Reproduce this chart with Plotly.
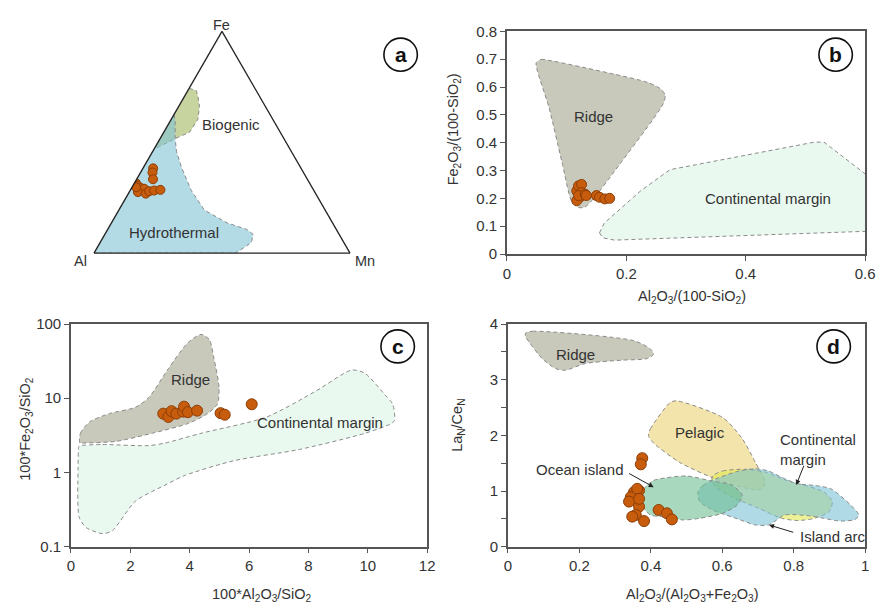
import plotly.graph_objects as go

W, H = 886, 614

# ---------------- (a) Fe-Al-Mn ternary, percent ----------------
a_fe = [38.2, 36.3, 33.3, 31.6, 30.4, 29.3, 29.0, 27.5, 26.8, 27.9, 28.2, 28.5, 29.7]
a_al = [57.8, 59.0, 60.3, 67.9, 67.7, 67.0, 65.9, 69.1, 66.4, 64.5, 62.4, 59.8, 68.7]
a_mn = [4.0, 4.7, 6.4, 0.5, 1.9, 3.7, 5.1, 3.4, 6.8, 7.6, 9.4, 11.7, 1.6]

bio_fe = [74.3, 73.3, 70.6, 66.2, 60.4, 54.5, 52.3, 50.1, 46.9]
bio_al = [25.7, 23.4, 24.1, 25.7, 29.2, 35.4, 40.9, 45.8, 53.1]
bio_mn = [0.0, 3.3, 5.3, 8.1, 10.4, 10.1, 6.8, 4.1, 0.0]

hyd_fe = [62.6, 59.6, 51.6, 45.7, 38.5, 28.2, 19.4, 13.6, 10.7, 8.5, 4.8, 1.2, 0.0, 0.0]
hyd_al = [37.4, 38.5, 42.5, 44.9, 46.5, 47.9, 47.2, 41.2, 35.1, 33.6, 36.1, 42.4, 44.9, 100.0]
hyd_mn = [0.0, 1.9, 5.9, 9.4, 15.0, 23.9, 33.4, 45.2, 54.2, 57.9, 59.1, 56.4, 55.1, 0.0]

# ---------------- (b) Fe2O3/(100-SiO2) vs Al2O3/(100-SiO2) ----------------
b_x = [0.117, 0.120, 0.122, 0.125, 0.125, 0.117, 0.120, 0.131, 0.133, 0.150, 0.155, 0.164, 0.172]
b_y = [0.227, 0.245, 0.204, 0.250, 0.221, 0.192, 0.210, 0.215, 0.210, 0.210, 0.204, 0.198, 0.200]

rb_x = [0.049, 0.057, 0.070, 0.180, 0.235, 0.257, 0.265, 0.262, 0.180, 0.147, 0.131, 0.120, 0.109, 0.092, 0.070, 0.051]
rb_y = [0.687, 0.699, 0.696, 0.646, 0.617, 0.594, 0.571, 0.541, 0.297, 0.204, 0.169, 0.167, 0.186, 0.332, 0.530, 0.658]

cb_x = [0.155, 0.163, 0.224, 0.273, 0.400, 0.515, 0.531, 0.620, 0.620, 0.180, 0.161]
cb_y = [0.076, 0.111, 0.227, 0.303, 0.355, 0.402, 0.402, 0.255, 0.083, 0.050, 0.058]

# ---------------- (c) 100*Fe2O3/SiO2 vs 100*Al2O3/SiO2 ----------------
c_x = [3.11, 3.28, 3.39, 3.55, 3.78, 3.81, 3.94, 4.25, 5.04, 5.18, 6.09]
c_y = [6.2, 5.6, 6.7, 6.2, 6.6, 7.7, 6.5, 6.8, 6.3, 6.0, 8.3]

rc_x = [0.30, 0.32, 0.63, 1.29, 2.17, 2.62, 3.28, 3.94, 4.38, 4.66, 4.82, 4.99, 4.93, 4.60, 3.94, 2.73, 1.51, 0.35]
rc_y = [2.49, 3.37, 4.8, 6.2, 7.55, 10.2, 25, 56, 72.5, 62, 34, 13.8, 8.3, 6.2, 4.56, 3.37, 2.62, 2.49]

cc_x = [0.30, 1.07, 2.62, 3.17, 4.38, 6.59, 8.25, 9.46, 9.90, 10.56, 10.84, 10.90, 10.79, 9.90, 7.69,
        5.49, 3.83, 3.17, 2.17, 1.40, 1.07, 0.52, 0.28, 0.24, 0.27]
cc_y = [2.30, 2.38, 2.30, 2.49, 3.37, 5.58, 12.5, 24, 21.7, 11.3, 8.3, 5.05, 4.56, 3.37, 2.04,
        1.44, 0.91, 0.676, 0.41, 0.165, 0.15, 0.18, 0.247, 1.12, 2.26]

# ---------------- (d) LaN/CeN vs Al2O3/(Al2O3+Fe2O3) ----------------
d_x = [0.376, 0.372, 0.367, 0.353, 0.344, 0.339, 0.367, 0.358, 0.348, 0.381, 0.422, 0.445, 0.459, 0.362, 0.367]
d_y = [1.59, 1.48, 1.01, 0.98, 0.89, 0.81, 0.72, 0.57, 0.54, 0.46, 0.66, 0.60, 0.49, 1.04, 0.86]

rd_x = [0.050, 0.069, 0.353, 0.399, 0.408, 0.390, 0.317, 0.216, 0.161, 0.133, 0.096, 0.060, 0.049]
rd_y = [3.84, 3.87, 3.70, 3.55, 3.46, 3.38, 3.35, 3.29, 3.17, 3.20, 3.38, 3.67, 3.78]

pd_x = [0.394, 0.399, 0.454, 0.472, 0.601, 0.656, 0.693, 0.720, 0.711, 0.683, 0.592, 0.482, 0.408, 0.394]
pd_y = [2.03, 2.12, 2.59, 2.62, 2.32, 1.94, 1.51, 1.16, 1.04, 1.03, 1.19, 1.51, 1.86, 1.98]

cm_x = [0.573, 0.601, 0.665, 0.720, 0.793, 0.826, 0.885, 0.908, 0.899, 0.858, 0.812, 0.766, 0.702, 0.628, 0.582, 0.571]
cm_y = [1.27, 1.36, 1.39, 1.34, 1.16, 1.11, 0.98, 0.81, 0.63, 0.51, 0.47, 0.51, 0.69, 0.89, 1.07, 1.19]

ia_x = [0.532, 0.546, 0.582, 0.647, 0.693, 0.729, 0.775, 0.812, 0.858, 0.904, 0.959, 0.982, 0.972, 0.931,
        0.849, 0.775, 0.748, 0.729, 0.693, 0.647, 0.573, 0.537]
ia_y = [0.98, 1.10, 1.22, 1.36, 1.40, 1.36, 1.22, 1.13, 1.10, 1.04, 0.75, 0.57, 0.49, 0.46,
        0.55, 0.57, 0.46, 0.39, 0.39, 0.49, 0.66, 0.81]

od_x = [0.381, 0.408, 0.445, 0.500, 0.564, 0.628, 0.656, 0.642, 0.601, 0.537, 0.491, 0.445, 0.399, 0.381, 0.376]
od_y = [1.04, 1.19, 1.24, 1.27, 1.19, 1.10, 0.92, 0.75, 0.60, 0.51, 0.48, 0.53, 0.57, 0.69, 0.86]

# ---------------- styles ----------------
FONT = "Liberation Sans, Arial, sans-serif"
TXT = "#333333"
EDGE = dict(color="#8a8a8a", width=1, dash="4px,3px")
MARK = dict(color="#c75c0d", line=dict(color="#8c3e07", width=1))
RIDGE = "rgba(170,172,150,0.65)"
MINT = "#eaf9ef"


def px(x):
    return x / W


def py(y):
    return 1 - y / H


fig = go.Figure()


def region(x, y, color, xa, ya, smooth=True):
    fig.add_trace(go.Scatter(
        x=x + x[:1], y=y + y[:1], xaxis=xa, yaxis=ya, mode="lines", fill="toself",
        fillcolor=color, line=dict(EDGE, shape="spline" if smooth else "linear", smoothing=0.7),
        hoverinfo="skip"))


def samples(x, y, xa, ya, size):
    fig.add_trace(go.Scatter(x=x, y=y, xaxis=xa, yaxis=ya, mode="markers",
                             marker=dict(MARK, size=size), hoverinfo="skip"))


# (a) ternary
def tregion(fe, al, mn, color):
    fig.add_trace(go.Scatterternary(
        a=fe + fe[:1], b=al + al[:1], c=mn + mn[:1], mode="lines", fill="toself",
        fillcolor=color, line=EDGE, hoverinfo="skip"))


tregion(bio_fe, bio_al, bio_mn, "rgb(200,212,160)")
tregion(hyd_fe, hyd_al, hyd_mn, "rgba(128,195,213,0.6)")
fig.add_trace(go.Scatterternary(a=a_fe, b=a_al, c=a_mn, mode="markers",
                                marker=dict(MARK, size=9), hoverinfo="skip"))

# (b)
region(rb_x, rb_y, RIDGE, "x", "y")
region(cb_x, cb_y, MINT, "x", "y", smooth=False)
samples(b_x, b_y, "x", "y", 10)

# (c)
region(rc_x, rc_y, RIDGE, "x2", "y2")
region(cc_x, cc_y, MINT, "x2", "y2")
samples(c_x, c_y, "x2", "y2", 11)

# (d)
region(rd_x, rd_y, RIDGE, "x3", "y3")
region(pd_x, pd_y, "rgba(236,216,134,0.7)", "x3", "y3")
region(cm_x, cm_y, "rgba(227,233,80,0.6)", "x3", "y3")
region(ia_x, ia_y, "rgba(122,193,213,0.6)", "x3", "y3")
region(od_x, od_y, "rgba(110,190,147,0.6)", "x3", "y3")
samples(d_x, d_y, "x3", "y3", 11)

axis_common = dict(showline=True, mirror=True, linecolor="#555555", linewidth=1.5,
                   ticks="outside", ticklen=5, tickwidth=1, tickcolor="#555555",
                   showgrid=False, zeroline=False,
                   tickfont=dict(family=FONT, size=15, color=TXT))

tern_axis = dict(showgrid=False, showticklabels=False, ticks="", showline=True,
                 linecolor="#222222", linewidth=1.3, title=dict(text=""))

fig.update_layout(
    width=W, height=H, margin=dict(l=0, r=0, t=0, b=0),
    paper_bgcolor="white", plot_bgcolor="white", showlegend=False,
    font=dict(family=FONT, size=14, color=TXT),
    ternary=dict(domain=dict(x=[px(90), px(353)], y=[py(251), py(23)]), sum=100,
                 bgcolor="white", aaxis=tern_axis, baxis=tern_axis, caxis=tern_axis),
    xaxis=dict(axis_common, domain=[px(511), px(875)], range=[0, 0.6], dtick=0.2, anchor="y"),
    yaxis=dict(axis_common, domain=[py(252), py(23)], range=[0, 0.8], dtick=0.1, anchor="x"),
    xaxis2=dict(axis_common, domain=[px(68), px(430)], range=[0, 12], dtick=2, anchor="y2"),
    yaxis2=dict(axis_common, domain=[py(553), py(324)], type="log", range=[-1, 2],
                tickvals=[0.1, 1, 10, 100], ticktext=["0.1", "1", "10", "100"], anchor="x2"),
    xaxis3=dict(axis_common, domain=[px(512), px(875)], range=[0, 1], dtick=0.2, anchor="y3"),
    yaxis3=dict(axis_common, domain=[py(553), py(324)], range=[0, 4], dtick=1, anchor="x3",
                minor=dict(dtick=0.5, ticks="outside", ticklen=5, tickcolor="#555555")),
)

ann = []


def label(text, x, y, xref="paper", yref="paper", size=15, angle=0, xanchor="center", **kw):
    ann.append(dict(text=text, x=x, y=y, xref=xref, yref=yref, showarrow=False,
                    xanchor=xanchor, yanchor="middle", textangle=angle,
                    font=dict(family=FONT, size=size, color=TXT), **kw))


# ternary apices and fields
label("Fe", px(221), py(16), size=14.5)
label("Al", px(78), py(259), size=14.5)
label("Mn", px(367), py(259), size=14.5)
label("Biogenic", px(231), py(119))
label("Hydrothermal", px(173), py(230))

# axis titles
label("Al<sub>2</sub>O<sub>3</sub>/(100-SiO<sub>2</sub>)", px(699), py(296), size=14.5)
label("Fe<sub>2</sub>O<sub>3</sub>/(100-SiO<sub>2</sub>)", px(457), py(124), size=14.5, angle=-90)
label("100*Al<sub>2</sub>O<sub>3</sub>/SiO<sub>2</sub>", px(262), py(603), size=14.5)
label("100*Fe<sub>2</sub>O<sub>3</sub>/SiO<sub>2</sub>", px(22), py(432), size=14.5, angle=-90)
label("Al<sub>2</sub>O<sub>3</sub>/(Al<sub>2</sub>O<sub>3</sub>+Fe<sub>2</sub>O<sub>3</sub>)", px(700), py(603), size=14.5)
label("La<sub>N</sub>/Ce<sub>N</sub>", px(461), py(428), size=14.5, angle=-90)

# field names
label("Ridge", 0.145, 0.495, "x", "y")
label("Continental margin", 0.438, 0.20, "x", "y")
label("Ridge", 4.03, 1.248, "x2", "y2")
label("Continental margin", 8.39, 0.668, "x2", "y2")
label("Ridge", 0.188, 3.46, "x3", "y3")
label("Pelagic", 0.537, 2.05, "x3", "y3")
label("Ocean island", 0.202, 1.38, "x3", "y3")
label("Continental<br>margin", 0.755, 1.745, "x3", "y3", xanchor="left", align="left")
label("Island arc", 0.812, 0.19, "x3", "y3", xanchor="left")

# pointer arrows in (d)
for hx, hy, tx, ty in [(0.408, 1.07, 0.335, 1.33), (0.807, 1.11, 0.830, 1.48), (0.731, 0.39, 0.803, 0.25)]:
    ann.append(dict(x=hx, y=hy, ax=tx, ay=ty, xref="x3", yref="y3", axref="x3", ayref="y3",
                    text="", showarrow=True, arrowhead=2, arrowsize=1, arrowwidth=1,
                    arrowcolor="#222222"))

# panel letters in circles
shapes = []
for letter, cx, cy in [("a", 403, 47), ("b", 845, 47), ("c", 400, 347), ("d", 843, 347)]:
    r = 17
    shapes.append(dict(type="circle", xref="paper", yref="paper",
                       x0=px(cx - r), x1=px(cx + r), y0=py(cy + r), y1=py(cy - r),
                       line=dict(color="#111111", width=1.6), fillcolor="white"))
    ann.append(dict(text="<b>%s</b>" % letter, x=px(cx), y=py(cy), xref="paper", yref="paper",
                    xanchor="center", yanchor="middle", showarrow=False,
                    font=dict(family=FONT, size=21, color="#111111")))

fig.update_layout(annotations=ann, shapes=shapes, hovermode=False)
fig.write_html("out.html")
